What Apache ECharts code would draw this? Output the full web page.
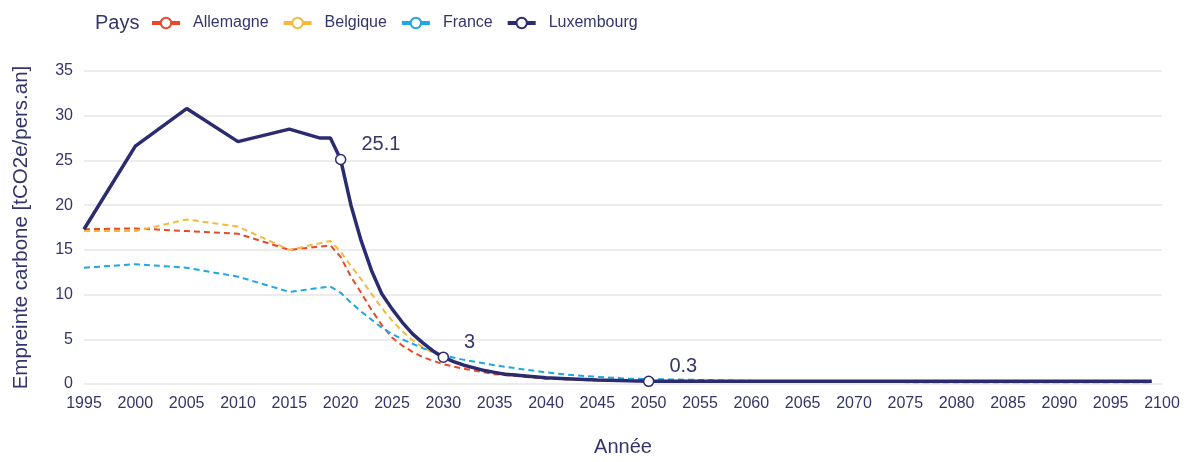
<!DOCTYPE html>
<html>
<head>
<meta charset="utf-8">
<script src="https://cdn.jsdelivr.net/npm/echarts@6/dist/echarts.min.js"></script>
<style>
  html, body { margin: 0; padding: 0; background: #ffffff; }
  #chart { width: 1194px; height: 462px; }
</style>
</head>
<body>
<div id="chart"></div>
<script>
// Empreinte carbone par habitant (tCO2e/pers.an), historique et trajectoire
const countries = ['Allemagne', 'Belgique', 'France', 'Luxembourg'];
const colors = ['#e8492b', '#f6b93b', '#1ea7e4', '#2b2c6f'];

const allemagneYears  = [1995, 2000, 2005, 2010, 2015, 2019, 2020, 2021, 2022, 2023, 2024, 2025, 2026, 2027, 2028, 2029, 2030, 2032, 2035, 2040, 2045, 2050, 2060, 2070, 2080, 2090, 2099];
const allemagneValues = [17.3, 17.4, 17.1, 16.8, 15.0, 15.5, 14.2, 12.0, 10.2, 8.3, 6.6, 5.2, 4.3, 3.6, 3.0, 2.6, 2.2, 1.7, 1.1, 0.6, 0.4, 0.3, 0.25, 0.22, 0.2, 0.2, 0.2];

const belgiqueYears  = [1995, 2000, 2005, 2010, 2015, 2019, 2020, 2021, 2022, 2023, 2024, 2025, 2026, 2027, 2028, 2029, 2030, 2032, 2035, 2040, 2045, 2050, 2060, 2070, 2080, 2090, 2099];
const belgiqueValues = [17.1, 17.1, 18.4, 17.6, 15.0, 16.0, 14.8, 13.2, 11.7, 10.1, 8.5, 7.1, 5.9, 4.9, 4.1, 3.5, 2.9, 2.1, 1.3, 0.7, 0.45, 0.3, 0.25, 0.22, 0.2, 0.2, 0.2];

const franceYears  = [1995, 2000, 2005, 2010, 2015, 2019, 2020, 2021, 2022, 2023, 2024, 2025, 2026, 2027, 2028, 2029, 2030, 2032, 2035, 2038, 2040, 2042, 2045, 2048, 2050, 2055, 2060, 2070, 2080, 2090, 2099];
const franceValues = [13.0, 13.4, 13.0, 12.0, 10.3, 10.9, 10.2, 9.1, 8.1, 7.2, 6.3, 5.6, 5.0, 4.5, 4.0, 3.6, 3.2, 2.7, 2.1, 1.6, 1.3, 1.05, 0.8, 0.6, 0.55, 0.45, 0.35, 0.3, 0.25, 0.25, 0.25];

const luxembourgYears  = [1995, 2000, 2005, 2010, 2015, 2018, 2019, 2020, 2021, 2022, 2023, 2024, 2025, 2026, 2027, 2028, 2029, 2030, 2031, 2032, 2033, 2034, 2035, 2036, 2037, 2038, 2040, 2042, 2045, 2048, 2050, 2060, 2070, 2080, 2090, 2099];
const luxembourgValues = [17.3, 26.6, 30.8, 27.1, 28.5, 27.5, 27.5, 25.1, 20.0, 16.0, 12.7, 10.1, 8.4, 6.9, 5.6, 4.6, 3.7, 3.0, 2.5, 2.1, 1.8, 1.5, 1.3, 1.1, 1.0, 0.9, 0.7, 0.6, 0.45, 0.35, 0.3, 0.3, 0.3, 0.3, 0.3, 0.3];

// Années annotées sur la courbe du Luxembourg
const highlightYears = [2020, 2030, 2050];

const xTicks = { min: 1995, max: 2100, interval: 5 };
const yTicks = { min: 0, max: 35, interval: 5 };

const textColor = '#34366b';
const fontFamily = '"Liberation Sans", Arial, sans-serif';

function pairs(years, values) {
  return years.map((y, i) => [y, values[i]]);
}

function dashedSeries(name, years, values, color) {
  return {
    name: name,
    type: 'line',
    data: pairs(years, values),
    symbol: 'emptyCircle',
    symbolSize: 0,
    showSymbol: true,
    itemStyle: { color: color, borderColor: color },
    lineStyle: { color: color, width: 2, type: [6, 4] },
    emphasis: { disabled: true },
    z: 2
  };
}

const luxData = luxembourgYears.map((y, i) => {
  const v = luxembourgValues[i];
  if (highlightYears.includes(y)) {
    return {
      value: [y, v],
      symbol: 'circle',
      symbolSize: 10,
      itemStyle: { color: '#ffffff', borderColor: colors[3], borderWidth: 1.5 },
      label: {
        show: true,
        position: 'right',
        distance: 5,
        offset: [10, -15],
        formatter: String(v),
        color: textColor,
        fontSize: 20,
        fontFamily: fontFamily
      }
    };
  }
  return { value: [y, v], symbol: 'none' };
});

const chart = echarts.init(document.getElementById('chart'), null, { renderer: 'canvas' });

chart.setOption({
  animation: false,
  backgroundColor: '#ffffff',
  color: colors,
  title: {
    text: 'Pays',
    left: 90,
    top: 8,
    textStyle: { color: textColor, fontSize: 20, fontWeight: 'normal', fontFamily: fontFamily }
  },
  legend: {
    left: 145,
    top: 10,
    itemWidth: 28,
    itemHeight: 13,
    itemGap: 13,
    data: countries,
    textStyle: { color: textColor, fontSize: 16, fontFamily: fontFamily, padding: [0, 0, 0, 8] },
    itemStyle: { borderWidth: 2 },
    lineStyle: { width: 4, type: 'solid' }
  },
  grid: { left: 84, right: 32, top: 71, bottom: 72, containLabel: false },
  xAxis: {
    type: 'value',
    min: xTicks.min,
    max: xTicks.max,
    interval: xTicks.interval,
    name: 'Année',
    nameLocation: 'middle',
    nameGap: 53,
    nameTextStyle: { color: textColor, fontSize: 20, fontFamily: fontFamily },
    axisLine: { show: false },
    axisTick: { show: false },
    splitLine: { show: false },
    axisLabel: { color: textColor, fontSize: 16, fontFamily: fontFamily, margin: 12, formatter: v => String(v) }
  },
  yAxis: {
    type: 'value',
    min: yTicks.min,
    max: yTicks.max,
    interval: yTicks.interval,
    name: 'Empreinte carbone [tCO2e/pers.an]',
    nameLocation: 'middle',
    nameGap: 52,
    nameTextStyle: { color: textColor, fontSize: 20.5, fontFamily: fontFamily },
    axisLine: { show: false },
    axisTick: { show: false },
    splitLine: { show: true, lineStyle: { color: '#e6e6e6', width: 1.5 } },
    axisLabel: { color: textColor, fontSize: 16, fontFamily: fontFamily, margin: 11 }
  },
  series: [
    dashedSeries(countries[0], allemagneYears, allemagneValues, colors[0]),
    dashedSeries(countries[1], belgiqueYears, belgiqueValues, colors[1]),
    dashedSeries(countries[2], franceYears, franceValues, colors[2]),
    {
      name: countries[3],
      type: 'line',
      data: luxData,
      symbol: 'emptyCircle',
      showSymbol: true,
      itemStyle: { color: colors[3], borderColor: colors[3] },
      lineStyle: { color: colors[3], width: 3.5 },
      emphasis: { disabled: true },
      z: 5
    }
  ]
});
</script>
</body>
</html>
